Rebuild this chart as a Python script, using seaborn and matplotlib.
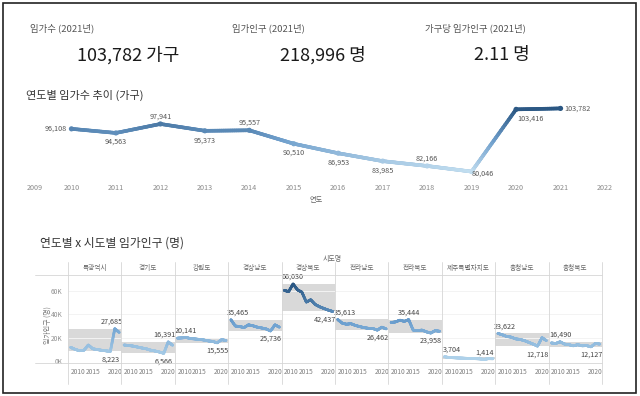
import numpy as np
import pandas as pd
import matplotlib
matplotlib.use('Agg')
import matplotlib.pyplot as plt
import seaborn as sns
from matplotlib.collections import LineCollection
from matplotlib.colors import LinearSegmentedColormap, Normalize
from matplotlib.lines import Line2D
from matplotlib.patches import Rectangle

sns.set_theme(style='white')
plt.rcParams['font.family'] = ['Noto Sans CJK KR', 'DejaVu Sans']

# ---------------- data ----------------
kpi_titles = ['임가수 (2021년)', '임가인구 (2021년)', '가구당 임가인구 (2021년)']
kpi_values = ['103,782 가구', '218,996 명', '2.11 명']

years = list(range(2010, 2022))
households = [96108, 94563, 97941, 95373, 95557, 90510, 86953, 83985, 82166, 80046, 103416, 103782]
top_ticks = list(range(2009, 2023))

regions = ['특광역시', '경기도', '강원도', '경상남도', '경상북도',
           '전라남도', '전라북도', '제주특별자치도', '충청남도', '충청북도']
pop_metro = [11700, 10000, 8800, 9200, 13700, 10500, 9800, 9200, 8700, 8223, 27685, 24500]
pop_gyeonggi = [13700, 13300, 12800, 12000, 11200, 10500, 9300, 8600, 7700, 6566, 16391, 13500]
pop_gangwon = [19600, 19800, 20141, 19200, 18900, 18500, 18000, 17200, 16800, 15555, 18300, 17600]
pop_gyeongnam = [35465, 30000, 29500, 28700, 31000, 30200, 29000, 28300, 27500, 25736, 31000, 29000]
pop_gyeongbuk = [60500, 59500, 66030, 61000, 59000, 50500, 52500, 48500, 46500, 45000, 43600, 42437]
pop_jeonnam = [35613, 32500, 31500, 32000, 30500, 29500, 28600, 28000, 27800, 26462, 29000, 27500]
pop_jeonbuk = [33000, 33500, 35000, 34000, 35444, 26500, 26000, 26500, 25000, 23958, 26000, 25500]
pop_jeju = [3704, 3000, 2800, 2600, 2500, 2300, 2100, 2000, 1800, 1414, 2000, 1900]
pop_chungnam = [23622, 22500, 21000, 20500, 19000, 18500, 17500, 16000, 14500, 12718, 20000, 17500]
pop_chungbuk = [15500, 15000, 16490, 14500, 14000, 13000, 14000, 13000, 13200, 12127, 15000, 14500]
pops = [pop_metro, pop_gyeonggi, pop_gangwon, pop_gyeongnam, pop_gyeongbuk,
        pop_jeonnam, pop_jeonbuk, pop_jeju, pop_chungnam, pop_chungbuk]
panel_xticks = [2010, 2015, 2020]
panel_yticks = [0, 20000, 40000, 60000]
panel_ytick_labels = ['0K', '20K', '40K', '60K']

# ---------------- figure ----------------
W, H = 640, 396
fig = plt.figure(figsize=(6.4, 3.96), dpi=100)
fig.patch.set_facecolor('white')


def fx(x):
    return x / W


def fy(y):
    return 1 - y / H


def gradient_line(ax, xs, ys, cmap, norm, lw, n=24, z=3):
    segs, cols = [], []
    for i in range(len(xs) - 1):
        t = np.linspace(0, 1, n + 1)
        px = xs[i] + (xs[i + 1] - xs[i]) * t
        py = ys[i] + (ys[i + 1] - ys[i]) * t
        for j in range(n):
            segs.append([(px[j], py[j]), (px[j + 1], py[j + 1])])
            cols.append(cmap(norm((py[j] + py[j + 1]) / 2)))
    lc = LineCollection(segs, colors=cols, linewidths=lw, capstyle='round', zorder=z)
    ax.add_collection(lc)


# KPI row
kpi_title_x = [30, 232, 425]
kpi_val_x = [128, 323, 502]
for t, v, tx, vx in zip(kpi_titles, kpi_values, kpi_title_x, kpi_val_x):
    fig.text(fx(tx), fy(28), t, fontsize=6.8, color='#555555', ha='left', va='center')
    fig.text(fx(vx), fy(55), v, fontsize=13, color='#1a1a1a', ha='center', va='center')

# ---------------- top line chart ----------------
fig.text(fx(26), fy(95), '연도별 임가수 추이 (가구)', fontsize=8, color='#333333',
         ha='left', va='center')
top_cmap = LinearSegmentedColormap.from_list('top', ['#c2def0', '#6f9fcc', '#2b5783'])
top_norm = Normalize(min(households), max(households))

ax1 = fig.add_axes([fx(27), fy(179), fx(605) - fx(27), (179 - 100) / H])
df_top = pd.DataFrame({'연도': years, '임가수': households})
sns.lineplot(data=df_top, x='연도', y='임가수', ax=ax1, color='#5d8cbc', lw=2.4, zorder=2)
gradient_line(ax1, years, households, top_cmap, top_norm, 2.6, z=3)
sns.scatterplot(data=df_top, x='연도', y='임가수', hue='임가수', palette=top_cmap,
                hue_norm=(min(households), max(households)), s=14, linewidth=0,
                legend=False, ax=ax1, zorder=4)
ax1.set_xlim(2009, 2022)
ax1.set_ylim(77269, 106939)
ax1.set_xticks(top_ticks)
ax1.set_xticklabels([str(t) for t in top_ticks])
ax1.get_xticklabels()[0].set_ha('left')
ax1.set_yticks([])
ax1.tick_params(axis='x', length=0, pad=3.5, labelsize=5.2, labelcolor='#8a8a8a')
ax1.set_xlabel('연도', fontsize=5.2, color='#666666', labelpad=3)
ax1.set_ylabel('')
for s in ax1.spines.values():
    s.set_visible(False)
ax1.patch.set_alpha(0)

top_label_pos = [('right', -5, 0), ('center', 0, -9), ('center', 0, 7), ('center', 0, -10),
                 ('center', 0, 8), ('center', 0, -9), ('center', 0, -9), ('center', 0, -9.5),
                 ('center', 0, 7), ('left', 0, -2), ('left', 1, -9), ('left', 4, 0)]
for yr, v, (ha, dx, dy) in zip(years, households, top_label_pos):
    ax1.annotate(f'{v:,}', (yr, v), xytext=(dx * 0.72, dy * 0.72), textcoords='offset points',
                 ha=ha, va='center', fontsize=5.2, color='#555555', zorder=5)

# ---------------- small multiples ----------------
fig.text(fx(40), fy(243), '연도별 x 시도별 임가인구 (명)', fontsize=8.5, color='#333333',
         ha='left', va='center')
fig.text(fx(332), fy(259), '시도명', fontsize=5, color='#666666', ha='center', va='center')
fig.text(fx(48), fy(325), '임가인구 (명)', fontsize=5, color='#777777', ha='center',
         va='center', rotation=90)

pcmap = LinearSegmentedColormap.from_list('p', ['#b3d5ec', '#6b9fcf', '#2a5783'])
pnorm = Normalize(0, 66030)
px0, pw, ptop, pbot = 68, 53.4, 277, 365
xl = (2009.4, 2021.5)
yl = (-3430, 72000)
ppy = pw / (xl[1] - xl[0])

line_c = '#d6d6d6'
for xx in [px0 + i * pw for i in range(11)]:
    fig.add_artist(Line2D([fx(xx), fx(xx)], [fy(262), fy(384)], color=line_c, lw=0.6,
                          transform=fig.transFigure))
for yy in [275, 363]:
    fig.add_artist(Line2D([fx(35), fx(602)], [fy(yy), fy(yy)], color=line_c, lw=0.6,
                          transform=fig.transFigure))

for i, (name, vals) in enumerate(zip(regions, pops)):
    left = px0 + i * pw
    fig.text(fx(left + pw / 2), fy(268), name, fontsize=4.8, color='#666666',
             ha='center', va='center')
    ax = fig.add_axes([fx(left), fy(pbot), pw / W, (pbot - ptop) / H])
    ax.patch.set_alpha(0)
    vmin, vmax = min(vals), max(vals)
    ax.axhspan(vmin, vmax, color='#d9d9d9', lw=0, zorder=0)
    for g in panel_yticks[1:]:
        ax.axhline(g, color='#f3f3f3', lw=0.7, zorder=0.5)
    df = pd.DataFrame({'연도': years, '임가인구': vals})
    sns.lineplot(data=df, x='연도', y='임가인구', ax=ax,
                 color=pcmap(pnorm(np.mean(vals))), lw=1.8, zorder=2)
    gradient_line(ax, years, vals, pcmap, pnorm, 1.9, z=3)
    ax.set_xlim(*xl)
    ax.set_ylim(*yl)
    ax.set_xticks(panel_xticks)
    ax.set_xticklabels([str(t) for t in panel_xticks])
    ax.tick_params(axis='x', length=0, pad=2.5, labelsize=4.8, labelcolor='#808080')
    tl = ax.get_xticklabels()
    tl[0].set_ha('left')
    ax.set_xlabel('')
    ax.set_ylabel('')
    if i == 0:
        ax.set_yticks(panel_yticks)
        ax.set_yticklabels(panel_ytick_labels)
        ax.tick_params(axis='y', length=0, pad=4, labelsize=4.8, labelcolor='#909090')
    else:
        ax.set_yticks([])
    for s in ax.spines.values():
        s.set_visible(False)

    for v, kind in [(vmax, 'max'), (vmin, 'min')]:
        yr = years[vals.index(v)]
        ppx = left + (yr - xl[0]) * ppy
        cpx = min(max(ppx, left + 10), left + pw - 10)
        cx = xl[0] + (cpx - left) / ppy
        if kind == 'max' or v < 5000:
            dy = 7
        else:
            dy = -8
        ax.annotate(f'{v:,}', (cx, v), xytext=(0, dy * 0.72), textcoords='offset points',
                    ha='center', va='center', fontsize=5.2, color='#444444', zorder=6,
                    annotation_clip=False)

# border
fig.add_artist(Rectangle((fx(2.5), fy(393)), (636 - 2.5) / W, (393 - 2.5) / H,
                         transform=fig.transFigure, fill=False, ec='#222222', lw=1.2))

fig.savefig('out.png', dpi=100, facecolor='white')
